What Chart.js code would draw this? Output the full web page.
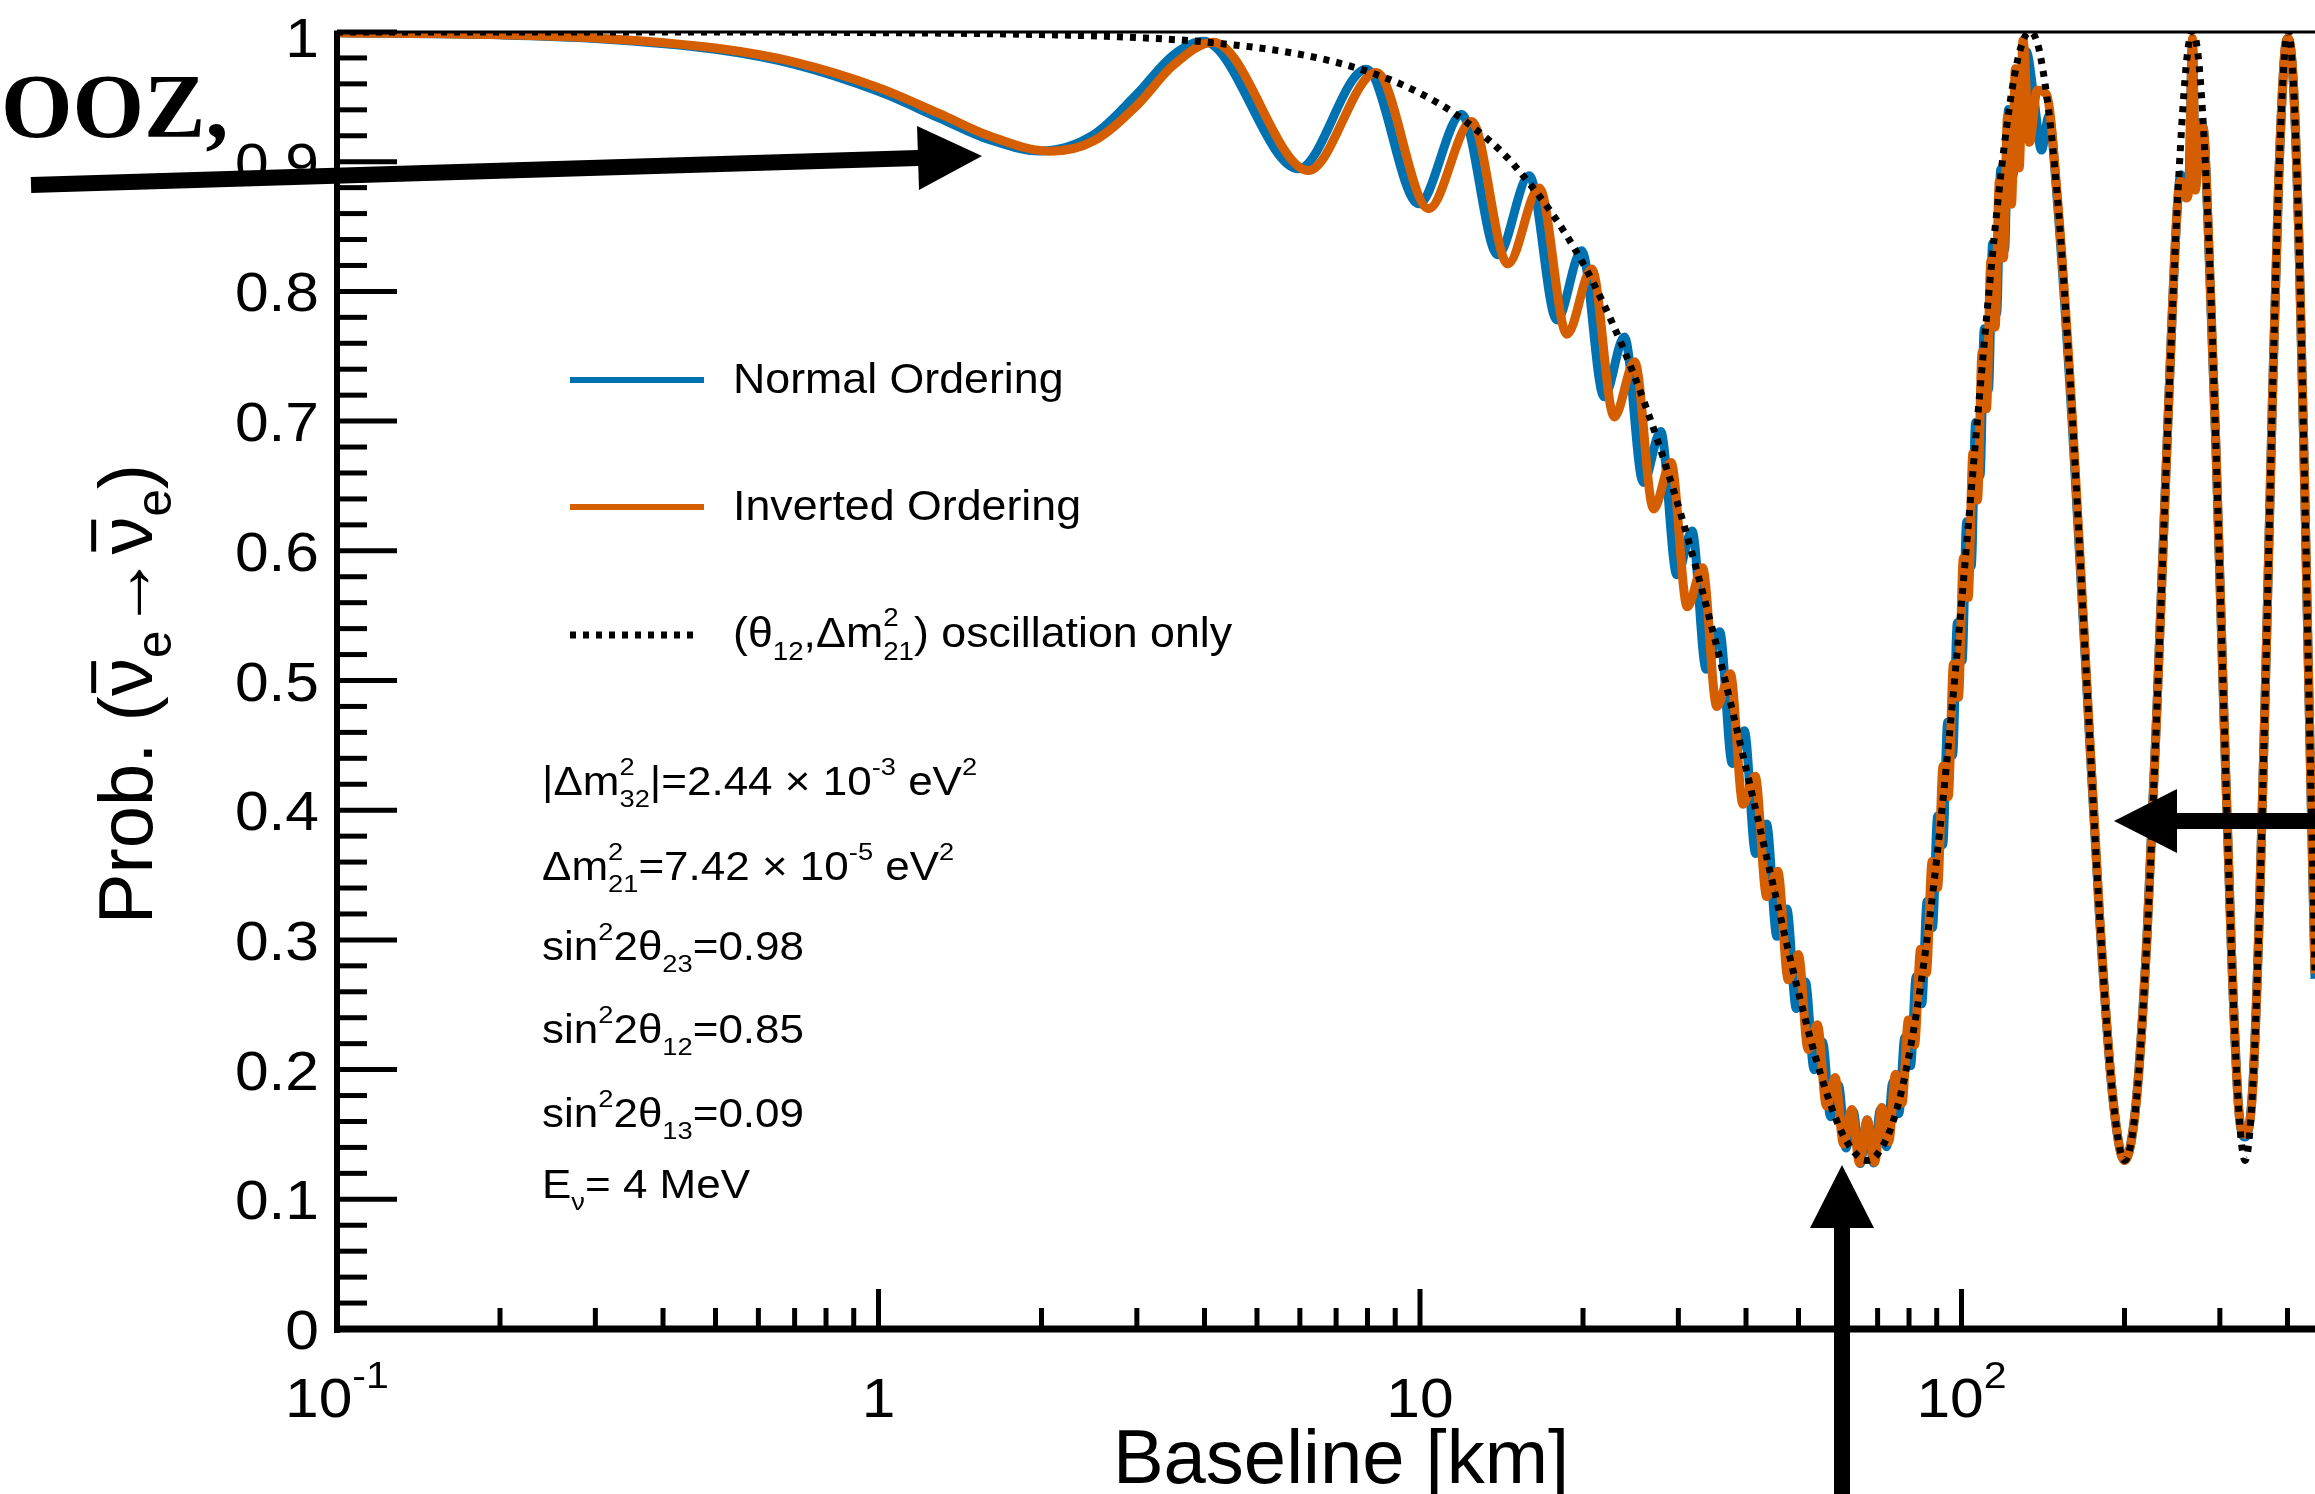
<!DOCTYPE html>
<html><head><meta charset="utf-8">
<script src="https://cdn.jsdelivr.net/npm/chart.js@4.4.1/dist/chart.umd.min.js"></script>
<style>html,body{margin:0;padding:0;background:#fff;overflow:hidden}canvas{display:block}</style>
</head><body>
<canvas id="c" width="2315" height="1494"></canvas>
<script>
// ---------------- data ----------------
const baselineNO = [0.1,0.2,0.3,0.5,0.7,1.0,1.3,1.6,1.990,2.5,3.0,3.5,3.979,5.969,7.958,9.947,11.936,13.925,15.913,17.900,19.888,21.874,23.860,25.846,27.829,29.813,31.795,33.775,35.755,37.732,39.707,41.679,43.649,45.616,47.579,49.538,51.492,53.439,55.382,57.321,59.252,61.180,63.104,65.026,66.948,68.873,70.800,72.732,74.672,76.618,78.569,80.521,82.479,84.446,86.416,88.391,90.356,92.332,94.310,96.289,98.270,100.253,102.236,104.220,106.206,108.192,110.179,112.166,114.154,116.142,118.131,120.120,122.109,124.2,127.5,131.7,136,140.5,145,150,160,170,180,190,200,210,220,230,240,250,254,260,263,267,270.5,275,280,285,295,305,315,325,334,345,355,365,375,385,395,401,410,420,430,440,449.6];
const probNO = [0.9994,0.9978,0.9950,0.9866,0.9750,0.9542,0.9334,0.9171,0.9083,0.9210,0.9520,0.9821,0.9928,0.8945,0.9713,0.8675,0.9363,0.8282,0.8891,0.7780,0.8314,0.7187,0.7648,0.6527,0.6919,0.5815,0.6153,0.5086,0.5376,0.4361,0.4613,0.3666,0.3893,0.3028,0.3238,0.2472,0.2677,0.1999,0.2212,0.1636,0.1880,0.1396,0.1677,0.1276,0.1611,0.1280,0.1688,0.1406,0.1903,0.1660,0.2247,0.2030,0.2715,0.2507,0.3297,0.3095,0.3954,0.3734,0.4679,0.4426,0.5446,0.5153,0.6224,0.5881,0.6990,0.6581,0.7712,0.7246,0.8369,0.7831,0.8940,0.8324,0.9402,0.888,0.950,0.985,0.950,0.909,0.935,0.874,0.700,0.502,0.315,0.181,0.130,0.174,0.302,0.488,0.690,0.860,0.890,0.878,0.885,0.990,0.880,0.930,0.925,0.856,0.680,0.478,0.294,0.170,0.148,0.187,0.323,0.513,0.714,0.882,0.982,0.995,0.961,0.837,0.654,0.452,0.27];

const baselineIO = [0.1,0.2,0.3,0.5,0.7,1.0,1.3,1.6,2.075,2.5,3.0,3.5,4.151,6.226,8.302,10.378,12.454,14.530,16.607,18.684,20.761,22.840,24.919,26.998,29.080,31.161,33.244,35.328,37.414,39.502,41.592,43.684,45.779,47.877,49.979,52.085,54.195,56.313,58.435,60.561,62.695,64.832,66.973,69.116,71.259,73.399,75.536,77.669,79.794,81.913,84.027,86.140,88.247,90.345,92.439,94.530,96.629,98.718,100.805,102.891,104.975,107.058,109.139,111.220,113.299,115.377,117.455,119.533,121.610,123.687,125.763,127.839,129.915,133.5,138,143.5,150,160,170,180,190,200,210,220,230,240,250,254,260,263,267,270.5,275,280,285,295,305,315,325,334,345,355,365,375,385,395,401,410,420,430,440,449.6];
const probIO = [0.9995,0.9979,0.9954,0.9876,0.9768,0.9571,0.9368,0.9200,0.9081,0.9162,0.9434,0.9743,0.9921,0.8932,0.9688,0.8638,0.9309,0.8212,0.8797,0.7669,0.8173,0.7032,0.7458,0.6322,0.6680,0.5568,0.5869,0.4800,0.5052,0.4045,0.4261,0.3334,0.3529,0.2693,0.2888,0.2155,0.2345,0.1720,0.1939,0.1427,0.1693,0.1280,0.1611,0.1285,0.1707,0.1443,0.1965,0.1743,0.2382,0.2192,0.2928,0.2746,0.3604,0.3404,0.4338,0.4106,0.5126,0.4870,0.5944,0.5639,0.6755,0.6391,0.7531,0.7095,0.8237,0.7725,0.8851,0.8258,0.9351,0.8672,0.9717,0.8952,0.9936,0.915,0.955,0.952,0.878,0.707,0.5055,0.3169,0.1818,0.130,0.1726,0.3003,0.4864,0.6883,0.8617,0.885,0.872,0.878,0.995,0.878,0.928,0.925,0.8584,0.6812,0.4787,0.2947,0.1694,0.150,0.1853,0.3229,0.5127,0.714,0.8826,0.9828,0.995,0.9617,0.8378,0.6547,0.4521,0.274];

const baselineSolar = [0.1,0.2,0.5,1,2,3,4,6,8,10,12,15,20,25,30,35,40,45,50,55,60,65,67,70,75,80,85,90,95,100,105,110,115,120,125,130,134,140,150,160,170,180,190,200,210,220,230,240,250,260,267,275,285,295,305,315,325,334,345,355,365,375,385,395,401,410,420,430,440,449.6];
const probSolar = [1.0,1.0,1.0,0.9995,0.998,0.9957,0.9923,0.9828,0.9696,0.9528,0.9326,0.8963,0.8216,0.7326,0.6346,0.5327,0.4324,0.3404,0.2593,0.1957,0.1523,0.1317,0.1300,0.1350,0.1616,0.2109,0.2790,0.3626,0.4583,0.5596,0.6616,0.7575,0.8431,0.9129,0.9643,0.9936,1.0,0.9809,0.8779,0.7072,0.5055,0.3169,0.1818,0.1300,0.1726,0.3003,0.4864,0.6883,0.8617,0.9744,1.0,0.9721,0.8584,0.6812,0.4787,0.2947,0.1694,0.1300,0.1853,0.3229,0.5127,0.7140,0.8826,0.9828,1.0,0.9617,0.8378,0.6547,0.4521,0.2740];

const yMajorTicks = [0,0.1,0.2,0.3,0.4,0.5,0.6,0.7,0.8,0.9,1];
const yTickLabels = ['0','0.1','0.2','0.3','0.4','0.5','0.6','0.7','0.8','0.9','1'];
const yMinorTicks = [0.02,0.04,0.06,0.08,0.12,0.14,0.16,0.18,0.22,0.24,0.26,0.28,0.32,0.34,0.36,0.38,0.42,0.44,0.46,0.48,0.52,0.54,0.56,0.58,0.62,0.64,0.66,0.68,0.72,0.74,0.76,0.78,0.82,0.84,0.86,0.88,0.92,0.94,0.96,0.98];
const xMajorTicks = [0.1,1,10,100];
const xTickBase = ['10','1','10','10'];
const xTickExp = ['-1','','','2'];
const xMinorTicks = [0.2,0.3,0.4,0.5,0.6,0.7,0.8,0.9,2,3,4,5,6,7,8,9,20,30,40,50,60,70,80,90,200,300,400];

const BLUE = '#0072B2', ORANGE = '#D55E00';
const FONT = '"Liberation Sans", Arial, Helvetica, sans-serif';

function pts(xs, ys){ return xs.map((x,i)=>({x:x, y:ys[i]})); }

// ---------------- rich text helpers ----------------
function fnt(sz){ return sz + 'px ' + FONT; }
function richWidth(ctx, parts, sz, o){
  let w = 0;
  for (const p of parts){
    if (p[0]==='n' || p[0]==='bar'){ ctx.font = fnt(sz); w += ctx.measureText(p[1]).width; }
    else if (p[0]==='u' || p[0]==='d'){ ctx.font = fnt(sz*o.s); w += ctx.measureText(p[1]).width; }
    else if (p[0]==='ud'){ ctx.font = fnt(sz*o.s); w += Math.max(ctx.measureText(p[1]).width, ctx.measureText(p[2]).width); }
  }
  return w;
}
function richDraw(ctx, x, y, parts, sz, opt){
  const o = Object.assign({s:0.62, up:0.5, dn:0.3, hs:1, align:'left'}, opt||{});
  ctx.save();
  ctx.textAlign = 'left'; ctx.textBaseline = 'alphabetic';
  const w = richWidth(ctx, parts, sz, o) * o.hs;
  let x0 = x;
  if (o.align === 'center') x0 = x - w/2;
  else if (o.align === 'right') x0 = x - w;
  ctx.translate(x0, y); ctx.scale(o.hs, 1);
  let cx = 0;
  for (const p of parts){
    const k = p[0];
    if (k==='n' || k==='bar'){
      ctx.font = fnt(sz); ctx.fillText(p[1], cx, 0);
      const ww = ctx.measureText(p[1]).width;
      if (k==='bar') ctx.fillRect(cx + ww*0.08, -sz*0.80, ww*0.84, sz*0.065);
      cx += ww;
    } else if (k==='u'){
      ctx.font = fnt(sz*o.s); ctx.fillText(p[1], cx, -sz*o.up); cx += ctx.measureText(p[1]).width;
    } else if (k==='d'){
      ctx.font = fnt(sz*o.s); ctx.fillText(p[1], cx, sz*o.dn); cx += ctx.measureText(p[1]).width;
    } else if (k==='ud'){
      ctx.font = fnt(sz*o.s); ctx.fillText(p[1], cx, -sz*o.up); ctx.fillText(p[2], cx, sz*o.dn);
      cx += Math.max(ctx.measureText(p[1]).width, ctx.measureText(p[2]).width);
    }
  }
  ctx.restore();
}
function seg(ctx, x0, y0, x1, y1){ ctx.beginPath(); ctx.moveTo(x0,y0); ctx.lineTo(x1,y1); ctx.stroke(); }
function arrow(ctx, x0, y0, x1, y1, sw, hl, hw){
  const dx = x1-x0, dy = y1-y0, L = Math.hypot(dx,dy), ux = dx/L, uy = dy/L, px = -uy, py = ux;
  const bx = x1-ux*hl, by = y1-uy*hl;
  ctx.beginPath();
  ctx.moveTo(x0+px*sw/2, y0+py*sw/2);
  ctx.lineTo(bx+px*sw/2, by+py*sw/2);
  ctx.lineTo(bx+px*hw, by+py*hw);
  ctx.lineTo(x1, y1);
  ctx.lineTo(bx-px*hw, by-py*hw);
  ctx.lineTo(bx-px*sw/2, by-py*sw/2);
  ctx.lineTo(x0-px*sw/2, y0-py*sw/2);
  ctx.closePath(); ctx.fill();
}

// ---------------- decorations plugin ----------------
const decor = {
  id: 'decor',
  afterDraw(chart){
    const ctx = chart.ctx, xs = chart.scales.x, ys = chart.scales.y, ca = chart.chartArea;
    ctx.save();
    ctx.strokeStyle = '#000'; ctx.fillStyle = '#000'; ctx.lineCap = 'butt';
    // frame
    ctx.lineWidth = 3; seg(ctx, ca.left, ca.top, ca.right, ca.top);
    ctx.lineWidth = 6; seg(ctx, ca.left, ca.top-1.5, ca.left, ca.bottom+4);
    ctx.lineWidth = 7; seg(ctx, ca.left-3, ca.bottom, ca.right, ca.bottom);
    // y ticks (inward)
    ctx.lineWidth = 5;
    yMajorTicks.forEach(v => { const y = ys.getPixelForValue(v); seg(ctx, ca.left, y, ca.left+60, y); });
    yMinorTicks.forEach(v => { const y = ys.getPixelForValue(v); seg(ctx, ca.left, y, ca.left+30, y); });
    // x ticks (inward)
    xMajorTicks.forEach(v => { const x = xs.getPixelForValue(v); seg(ctx, x, ca.bottom, x, ca.bottom-40); });
    xMinorTicks.forEach(v => { const x = xs.getPixelForValue(v); if (x <= ca.right) seg(ctx, x, ca.bottom, x, ca.bottom-21); });
    // y tick labels
    yMajorTicks.forEach((v,i) => {
      const y = ys.getPixelForValue(v);
      richDraw(ctx, 319, Math.max(y + 20, 57), [['n', yTickLabels[i]]], 55, {hs:1.1, align:'right'});
    });
    // x tick labels
    xMajorTicks.forEach((v,i) => {
      const x = xs.getPixelForValue(v);
      const parts = [['n', xTickBase[i]]];
      if (xTickExp[i]) parts.push(['u', xTickExp[i]]);
      richDraw(ctx, x, 1417, parts, 55, {hs:1.1, align:'center', s:0.68, up:0.52});
    });
    // axis titles
    richDraw(ctx, 1341, 1483, [['n','Baseline [km]']], 76, {align:'center'});
    ctx.save();
    ctx.translate(152, 694); ctx.rotate(-Math.PI/2);
    richDraw(ctx, 0, 0, [['n','Prob. ('],['bar','ν'],['d','e'],['n','→'],['bar','ν'],['d','e'],['n',')']], 76, {align:'center', s:0.65, dn:0.25});
    ctx.restore();
    // legend
    ctx.lineWidth = 6;
    ctx.strokeStyle = BLUE; seg(ctx, 570, 380, 704, 380);
    ctx.strokeStyle = ORANGE; seg(ctx, 570, 507, 704, 507);
    ctx.strokeStyle = '#000'; ctx.lineWidth = 7; ctx.setLineDash([6,7]); seg(ctx, 570, 635, 700, 635); ctx.setLineDash([]);
    richDraw(ctx, 733, 393, [['n','Normal Ordering']], 43, {hs:1.04});
    richDraw(ctx, 733, 520, [['n','Inverted Ordering']], 43, {hs:1.04});
    richDraw(ctx, 733, 647, [['n','(θ'],['d','12'],['n',',Δm'],['ud','2','21'],['n',') oscillation only']], 43, {hs:1.04});
    // parameters
    const P = {hs:1.1};
    richDraw(ctx, 542, 795, [['n','|Δm'],['ud','2','32'],['n','|=2.44 × 10'],['u','-3'],['n',' eV'],['u','2']], 40, P);
    richDraw(ctx, 542, 880, [['n','Δm'],['ud','2','21'],['n','=7.42 × 10'],['u','-5'],['n',' eV'],['u','2']], 40, P);
    richDraw(ctx, 542, 960, [['n','sin'],['u','2'],['n','2θ'],['d','23'],['n','=0.98']], 40, P);
    richDraw(ctx, 542, 1043, [['n','sin'],['u','2'],['n','2θ'],['d','12'],['n','=0.85']], 40, P);
    richDraw(ctx, 542, 1127, [['n','sin'],['u','2'],['n','2θ'],['d','13'],['n','=0.09']], 40, P);
    richDraw(ctx, 542, 1198, [['n','E'],['d','ν'],['n','= 4 MeV']], 40, P);
    // overlay annotations
    ctx.fillStyle = '#000';
    ctx.font = 'bold 92px "Liberation Serif", "Times New Roman", serif';
    ctx.textAlign = 'left'; ctx.textBaseline = 'alphabetic';
    ctx.fillText('OOZ,', 1, 137);
    arrow(ctx, 31, 185, 982, 156, 16, 64, 32);
    arrow(ctx, 1842, 1500, 1842, 1165, 16, 63, 32);
    arrow(ctx, 2325, 821, 2114, 821, 16, 63, 32);
    ctx.restore();
  }
};

new Chart(document.getElementById('c'), {
  type: 'line',
  data: {
    datasets: [
      { label: '(θ12,Δm²21) oscillation only', data: pts(baselineSolar, probSolar), borderColor: '#000', borderWidth: 7, borderDash: [6,7], pointRadius: 0, cubicInterpolationMode: 'monotone', fill: false, order: 0 },
      { label: 'Inverted Ordering', data: pts(baselineIO, probIO), borderColor: ORANGE, borderWidth: 9, pointRadius: 0, cubicInterpolationMode: 'monotone', fill: false, order: 1 },
      { label: 'Normal Ordering', data: pts(baselineNO, probNO), borderColor: BLUE, borderWidth: 9, pointRadius: 0, cubicInterpolationMode: 'monotone', fill: false, order: 2 }
    ]
  },
  options: {
    responsive: false, devicePixelRatio: 1, animation: false,
    layout: { padding: { left: 337, right: 0, top: 32, bottom: 165 } },
    plugins: { legend: { display: false }, tooltip: { enabled: false } },
    scales: {
      x: { type: 'logarithmic', min: 0.1, max: 449.6, display: false },
      y: { type: 'linear', min: 0, max: 1, display: false }
    }
  },
  plugins: [decor]
});
</script>
</body></html>
